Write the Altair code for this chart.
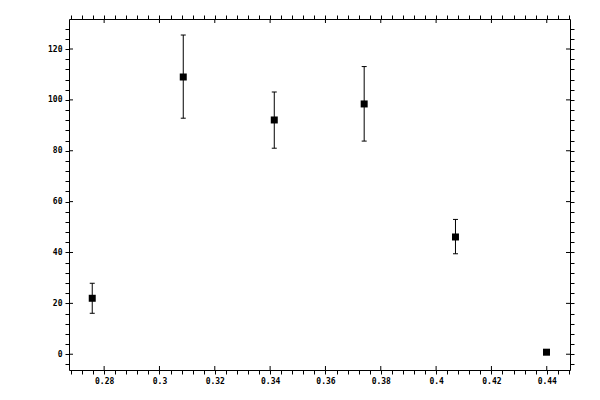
import altair as alt
import pandas as pd

# data
x_vals = [0.2757, 0.3086, 0.3415, 0.3740, 0.4070, 0.4399]
y_vals = [22.0, 109.0, 92.1, 98.4, 46.1, 0.8]
y_lo = [16.1, 92.8, 81.0, 83.8, 39.5, 0.8]
y_hi = [27.9, 125.5, 103.1, 113.1, 53.0, 0.8]

x_ticks = [round(0.268 + 0.004 * i, 3) for i in range(46)]
y_ticks = [-4 + 4 * i for i in range(34)]
x_major = [0.28, 0.30, 0.32, 0.34, 0.36, 0.38, 0.40, 0.42, 0.44]
y_major = [0, 20, 40, 60, 80, 100, 120]

W, H = 501, 351

df = pd.DataFrame({"x": x_vals, "y": y_vals, "lo": y_lo, "hi": y_hi})
dfx = pd.DataFrame({"v": x_major})
dfy = pd.DataFrame({"v": y_major})

xs = alt.Scale(domain=[0.2673, 0.4484], nice=False, zero=False)
ys = alt.Scale(domain=[-6.2, 131.8], nice=False, zero=False)

x_label_expr = "abs(datum.value*50 - round(datum.value*50)) < 0.001 ? datum.label : ''"
y_label_expr = "datum.value % 20 == 0 ? datum.label : ''"

ax_bottom = alt.Axis(orient="bottom", values=x_ticks, format=".2~f", labelExpr=x_label_expr,
                     title=None, labelOverlap=False, labelFlush=False, grid=False)
ax_left = alt.Axis(orient="left", values=y_ticks, labelExpr=y_label_expr,
                   title=None, labelOverlap=False, grid=False)
ax_top = alt.Axis(orient="top", values=x_ticks, labels=False, title=None, grid=False)
ax_right = alt.Axis(orient="right", values=y_ticks, labels=False, title=None, grid=False)

points = alt.Chart(df).mark_square(size=49, color="black", opacity=1).encode(
    x=alt.X("x:Q", scale=xs, axis=ax_bottom),
    y=alt.Y("y:Q", scale=ys, axis=ax_left),
)

bars = alt.Chart(df).transform_filter("datum.hi > datum.lo").mark_rule(color="black", strokeWidth=1).encode(
    x=alt.X("x:Q", scale=xs, axis=ax_top),
    y=alt.Y("lo:Q", scale=ys, axis=ax_right),
    y2="hi:Q",
)

cap_lo = alt.Chart(df).transform_filter("datum.hi > datum.lo").mark_tick(
    color="black", size=5, thickness=1, orient="horizontal", opacity=1).encode(
    x=alt.X("x:Q", scale=xs, axis=None),
    y=alt.Y("lo:Q", scale=ys, axis=None),
)
cap_hi = alt.Chart(df).transform_filter("datum.hi > datum.lo").mark_tick(
    color="black", size=5, thickness=1, orient="horizontal", opacity=1).encode(
    x=alt.X("x:Q", scale=xs, axis=None),
    y=alt.Y("hi:Q", scale=ys, axis=None),
)

in_bottom = alt.Chart(dfx).mark_rule(color="black", strokeWidth=1).encode(
    x=alt.X("v:Q", scale=xs, axis=None), y=alt.value(H), y2=alt.value(H - 4))
in_top = alt.Chart(dfx).mark_rule(color="black", strokeWidth=1).encode(
    x=alt.X("v:Q", scale=xs, axis=None), y=alt.value(0), y2=alt.value(4))
in_left = alt.Chart(dfy).mark_rule(color="black", strokeWidth=1).encode(
    y=alt.Y("v:Q", scale=ys, axis=None), x=alt.value(0), x2=alt.value(4))
in_right = alt.Chart(dfy).mark_rule(color="black", strokeWidth=1).encode(
    y=alt.Y("v:Q", scale=ys, axis=None), x=alt.value(W), x2=alt.value(W - 4))

chart = alt.layer(
    in_bottom, in_top, in_left, in_right, bars, cap_lo, cap_hi, points
).resolve_axis(x="independent", y="independent").properties(
    width=W, height=H,
    autosize=alt.AutoSizeParams(type="none"),
    padding={"left": 61, "top": 11, "right": 20, "bottom": 22},
    background="white",
).configure_view(stroke=None).configure_axis(
    domainColor="black", domainWidth=1, tickColor="black", tickWidth=1, tickSize=4,
    labelColor="black", labelFont="DejaVu Sans Mono", labelFontSize=8, labelPadding=3,
    labelFontWeight="bold",
)

chart.save("out.html", embed_options={"renderer": "svg", "actions": False})
